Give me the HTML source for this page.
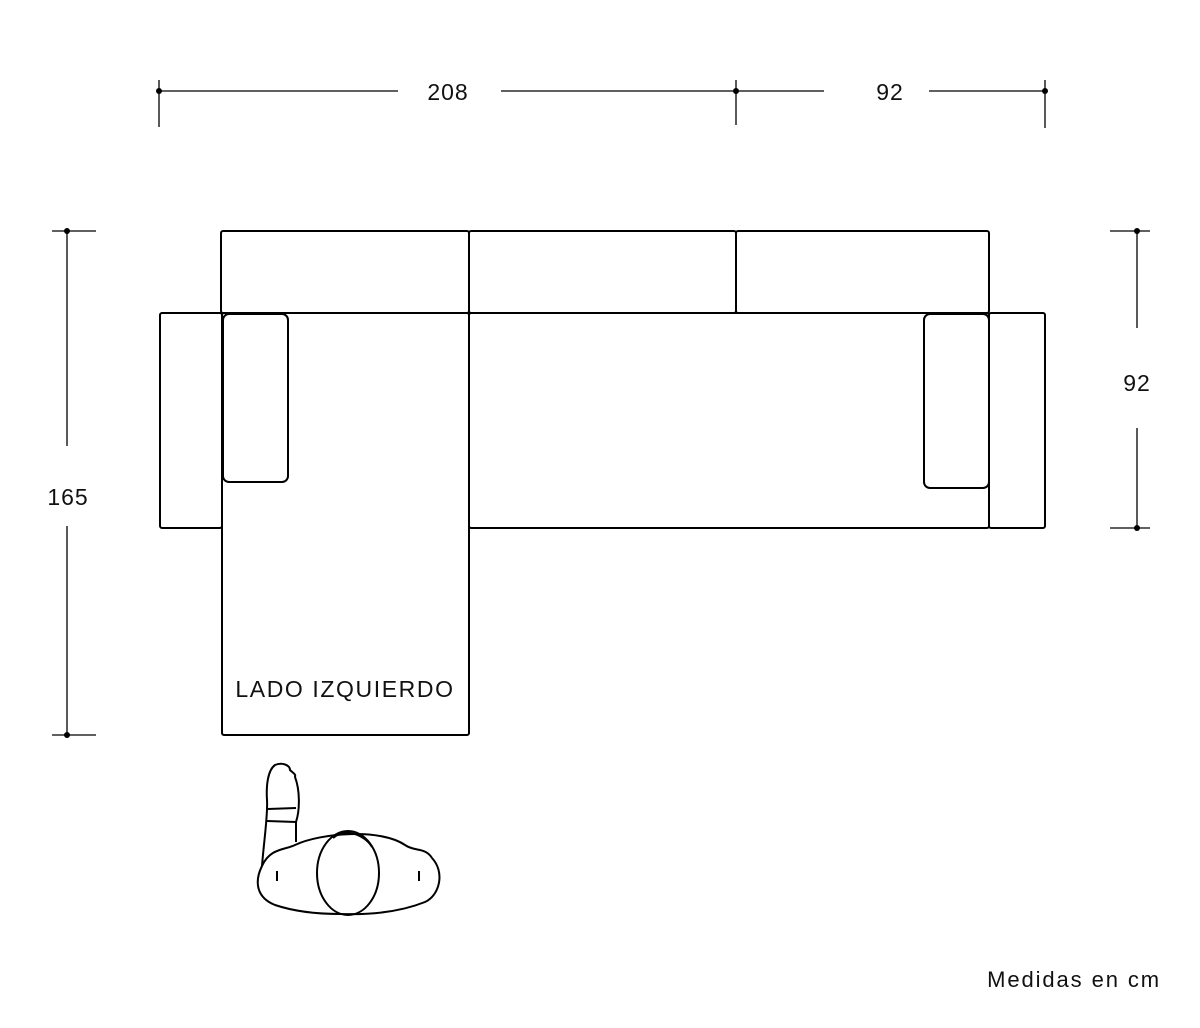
<!DOCTYPE html>
<html><head><meta charset="utf-8"><style>
html,body{margin:0;padding:0;background:#fff;}
svg{display:block;}
text{font-family:"Liberation Sans",sans-serif;fill:#111;}
</style></head><body>
<svg width="1200" height="1028" viewBox="0 0 1200 1028" xmlns="http://www.w3.org/2000/svg">
<g fill="none" stroke="#000" stroke-width="1.3">
<line x1="159" y1="91" x2="398" y2="91"/><line x1="501" y1="91" x2="736" y2="91"/>
<line x1="736" y1="91" x2="824" y2="91"/><line x1="929" y1="91" x2="1045" y2="91"/>
<line x1="159" y1="80" x2="159" y2="127"/><line x1="736" y1="80" x2="736" y2="125"/><line x1="1045" y1="80" x2="1045" y2="128"/>
<line x1="67" y1="231" x2="67" y2="446"/><line x1="67" y1="526" x2="67" y2="735"/>
<line x1="52" y1="231" x2="96" y2="231"/><line x1="52" y1="735" x2="96" y2="735"/>
<line x1="1137" y1="231" x2="1137" y2="328"/><line x1="1137" y1="428" x2="1137" y2="528"/>
<line x1="1110" y1="231" x2="1150" y2="231"/><line x1="1110" y1="528" x2="1150" y2="528"/>
</g>
<g fill="#000">
<circle cx="159" cy="91" r="3"/><circle cx="736" cy="91" r="3"/><circle cx="1045" cy="91" r="3"/>
<circle cx="67" cy="231" r="3"/><circle cx="67" cy="735" r="3"/>
<circle cx="1137" cy="231" r="3"/><circle cx="1137" cy="528" r="3"/>
</g>
<g fill="none" stroke="#000" stroke-width="2" stroke-linejoin="round">
<rect x="221" y="231" width="248" height="82" rx="2"/>
<rect x="469" y="231" width="267" height="82" rx="2"/>
<rect x="736" y="231" width="253" height="82" rx="2"/>
<rect x="160" y="313" width="62" height="215" rx="2"/>
<rect x="222" y="313" width="247" height="422" rx="2"/>
<rect x="469" y="313" width="520" height="215" rx="2"/>
<rect x="989" y="313" width="56" height="215" rx="2"/>
<rect x="223" y="314" width="65" height="168" rx="6"/>
<rect x="924" y="314" width="65" height="174" rx="6"/>
<path d="M262 866 C 264 840 268 815 267 800 C 266 785 268 770 275 765 C 282 762 290 765 290 770 C 293 773 296 774 295 777 C 300 790 300 810 296 822 L 296 842"/>
<path d="M268 809 L 296 808 M267 821 L 296 822"/>
<path d="M262 866 C 270 848 285 850 295 845 C 320 833 380 828 405 845 C 415 852 425 847 432 858 C 445 872 440 895 425 902 C 400 912 370 915 340 914 C 310 914 290 910 275 905 C 255 897 255 880 262 866 Z"/>
<ellipse cx="348" cy="873" rx="31" ry="42"/>
<path d="M333 838 C 345 827 365 835 372 847"/>
<line x1="277" y1="871" x2="277" y2="881"/><line x1="419" y1="871" x2="419" y2="881"/>
</g>
<g font-size="23" text-anchor="middle">
<text x="448" y="100" letter-spacing="1">208</text>
<text x="890" y="100" letter-spacing="1">92</text>
<text x="68" y="505" letter-spacing="1">165</text>
<text x="1137" y="391" letter-spacing="1">92</text>
<text x="345" y="697" letter-spacing="1.6">LADO IZQUIERDO</text>
</g>
<text x="1161" y="987" font-size="22" text-anchor="end" letter-spacing="1.9">Medidas en cm</text>
</svg>
</body></html>
